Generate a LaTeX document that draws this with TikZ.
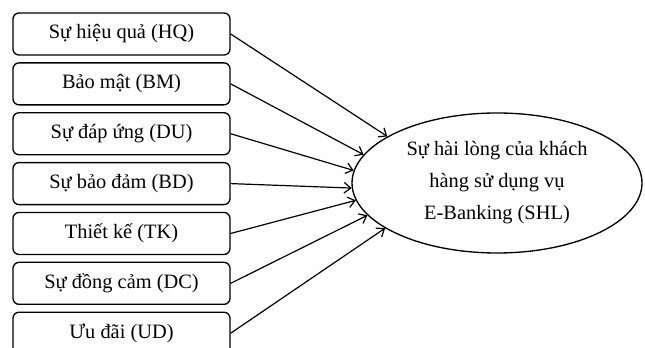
\documentclass[tikz,border=0pt]{standalone}
\usepackage{fontspec}
\setmainfont{Liberation Serif}
\usetikzlibrary{arrows.meta,positioning,shapes.geometric}
\tikzset{
    factor/.style={
        rectangle, draw, rounded corners=4.5pt, line width=1pt,
        minimum width=162.75pt, minimum height=31.5pt, inner sep=0pt,
        font=\fontsize{15.3}{18}\selectfont
    },
    outcome/.style={
        ellipse, draw, line width=1pt,
        minimum width=217.5pt, minimum height=105pt, inner sep=0pt,
        align=center, font=\fontsize{15.3}{24}\selectfont
    },
    effect/.style={
        -{Straight Barb[length=5pt, width=8pt]}, line width=0.9pt
    },
}
\begin{document}
\begin{tikzpicture}[x=0.75pt, y=-0.75pt, node distance=4.9pt]
    \useasboundingbox (0,0) rectangle (645,348);
    \clip (0,0) rectangle (645,348);

    % Factors
    \node[factor] (hq) at (121.5,34) {Sự hiệu quả (HQ)};
    \node[factor, below=of hq] (bm) {Bảo mật (BM)};
    \node[factor, below=of bm] (du) {Sự đáp ứng (DU)};
    \node[factor, below=of du] (bd) {Sự bảo đảm (BD)};
    \node[factor, below=of bd] (tk) {Thiết kế (TK)};
    \node[factor, below=of tk] (dc) {Sự đồng cảm (DC)};
    \node[factor, below=of dc] (ud) {Ưu đãi (UD)};

    % Outcome
    \node[outcome] (shl) at (497,183) {Sự hài lòng của khách\\hàng sử dụng vụ\\E-Banking (SHL)};

    \draw[effect] (hq.east) -- (shl.157);
    \draw[effect] (bm.east) -- (shl.168.5);
    \draw[effect] (du.east) -- (shl.175.5);
    \draw[effect] (bd.east) -- (shl.182);
    \draw[effect] (tk.east) -- (shl.187.5);
    \draw[effect] (dc.east) -- (shl.194);
    \draw[effect] (ud.east) -- (shl.202.5);

\end{tikzpicture}
\end{document}
